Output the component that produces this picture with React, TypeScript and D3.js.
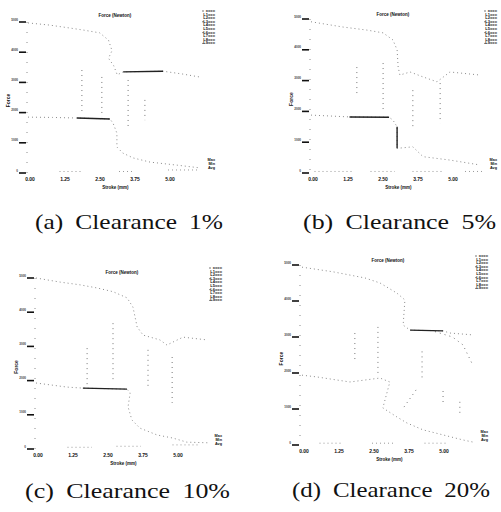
import React from "react";
import * as d3 from "d3";

// ---------- data (data units: stroke 0..5, force 0..5) ----------
const CAPTIONS = ["(a) Clearance 1%", "(b) Clearance 5%", "(c) Clearance 10%", "(d) Clearance 20%"];
const X_TICKS = [0, 1, 2, 3, 4];
const X_TICK_LABELS = ["0.00", "1.25", "2.50", "3.75", "5.00"];
const Y_TICKS = [0, 1, 2, 3, 4, 5];
const Y_TICK_LABELS = ["0", "1000", "2000", "3000", "4000", "5000"];
const TITLES = ["Force (Newton)", "Force (Newton)", "Force (Newton)", "Force (Newton)"];
const X_LABEL = "Stroke (mm)";
const Y_LABEL = "Force";
const LEGEND_TOP = ["x", "L1", "L2", "L3", "L4", "L5", "L6", "L7", "L8", "L9"];
const LEGEND_BOTTOM = ["Max", "Min", "Avg"];

// Panel (a)
const upperA = [[0, 4.97], [0.6, 4.9], [1.2, 4.8], [1.6, 4.73], [2.05, 4.64], [2.3, 4.4], [2.4, 4.05], [2.3, 3.8], [2.45, 3.55], [2.55, 3.25], [2.72, 3.35], [3.86, 3.37], [4.4, 3.28], [4.9, 3.18]];
const lowerA = [[0, 1.85], [0.7, 1.84], [1.4, 1.82], [2.34, 1.79], [2.43, 1.65], [2.54, 1.32], [2.54, 0.86], [2.71, 0.66], [3.0, 0.5], [3.49, 0.36], [4.26, 0.26], [4.91, 0.17]];
const solidA = [[[1.4, 1.82], [2.34, 1.79]], [[2.72, 3.35], [3.86, 3.37]]];
const vertsA = [[[1.54, 3.41], [1.54, 1.99]], [[2.11, 3.18], [2.11, 1.85]], [[2.86, 3.08], [2.86, 1.52]], [[3.34, 2.42], [3.34, 1.75]]];
const baseA = [[[0.9, 0.05], [1.5, 0.05]], [[2.6, 0.05], [3.0, 0.05]], [[4.0, 0.1], [4.9, 0.1]]];

// Panel (b)
const upperB = [[0, 4.91], [0.91, 4.74], [1.6, 4.64], [2.06, 4.55], [2.34, 4.32], [2.46, 4.0], [2.49, 3.44], [2.54, 3.18], [2.83, 3.28], [3.2, 3.12], [3.6, 2.96], [3.97, 3.28], [4.83, 3.18]];
const lowerB = [[0, 1.88], [1.11, 1.82], [2.23, 1.81], [2.34, 1.72], [2.46, 1.5], [2.46, 0.8], [2.91, 0.85], [3.2, 0.53], [3.97, 0.42], [4.83, 0.26]];
const solidB = [[[1.1, 1.82], [2.23, 1.81]], [[2.46, 1.5], [2.46, 0.8]]];
const vertsB = [[[2.06, 3.57], [2.06, 2.05]], [[1.31, 3.44], [1.31, 2.47]], [[2.91, 2.69], [2.91, 1.5]], [[3.69, 2.92], [3.69, 1.62]]];
const baseB = [[[0.1, 0.05], [1.2, 0.05]], [[1.7, 0.05], [2.4, 0.05]], [[2.9, 0.05], [3.8, 0.05]], [[4.4, 0.05], [4.9, 0.05]]];

// Panel (c)
const upperC = [[0, 5.0], [0.69, 4.88], [1.26, 4.8], [1.74, 4.71], [2.2, 4.6], [2.6, 4.42], [2.77, 4.15], [2.89, 3.57], [3.06, 3.33], [3.54, 3.19], [3.74, 3.04], [4.2, 3.27], [4.89, 3.19]];
const lowerC = [[0, 1.93], [0.89, 1.81], [1.34, 1.78], [2.6, 1.75], [2.69, 1.64], [2.63, 1.23], [2.74, 0.85], [2.97, 0.61], [3.46, 0.41], [3.91, 0.32], [4.31, 0.2], [4.97, 0.18]];
const solidC = [[[1.34, 1.78], [2.6, 1.75]]];
const vertsC = [[[1.46, 2.95], [1.46, 1.81]], [[2.2, 3.68], [2.2, 1.93]], [[3.2, 2.9], [3.2, 1.73]], [[3.89, 2.69], [3.89, 1.35]]];
const baseC = [[[0.9, 0.05], [1.6, 0.05]], [[2.3, 0.08], [3.0, 0.08]], [[3.9, 0.12], [4.7, 0.12]]];

// Panel (d)
const upperD = [[0, 4.94], [0.89, 4.81], [1.8, 4.64], [2.23, 4.5], [2.71, 4.22], [2.94, 4.03], [2.89, 3.33], [3.09, 3.19], [4.03, 3.17], [4.23, 3.11], [4.86, 3.06]];
const lowerD = [[0, 1.94], [0.43, 1.89], [1.37, 1.75], [2.23, 1.86], [2.51, 1.75], [2.31, 1.03], [2.71, 0.78], [3.0, 0.61], [3.46, 0.42], [4.03, 0.28], [4.6, 0.14], [4.89, 0.08]];
const solidD = [[[3.09, 3.19], [4.03, 3.17]]];
const vertsD = [[[1.51, 3.11], [1.51, 2.28]], [[2.17, 3.28], [2.17, 1.89]], [[3.43, 2.6], [3.43, 1.85]], [[4.03, 1.5], [4.03, 1.1]], [[4.51, 1.2], [4.51, 0.8]], [[3.8, 3.15], [4.3, 3.0], [4.6, 2.78], [4.89, 2.2]], [[3.26, 1.53], [2.91, 1.05]]];
const baseD = [[[0.5, 0.05], [1.1, 0.05]], [[2.0, 0.05], [2.6, 0.05]], [[3.5, 0.05], [4.1, 0.05]]];

const PANEL_DATA = [
  { upper: upperA, lower: lowerA, solid: solidA, verts: vertsA, base: baseA },
  { upper: upperB, lower: lowerB, solid: solidB, verts: vertsB, base: baseB },
  { upper: upperC, lower: lowerC, solid: solidC, verts: vertsC, base: baseC },
  { upper: upperD, lower: lowerD, solid: solidD, verts: vertsD, base: baseD },
];

// ---------- layout ----------
const LAYOUT = [
  { x0: 28, dx: 35, y0: 173, dy: 30.2, axisX: 27, titleX: 115, titleY: 17, legX: 215, legY: 9, capX: 35, capY: 229, capW: 188 },
  { x0: 311, dx: 35, y0: 173, dy: 30.8, axisX: 310, titleX: 393, titleY: 16, legX: 497, legY: 9, capX: 303, capY: 229, capW: 193 },
  { x0: 36, dx: 35, y0: 449, dy: 34.2, axisX: 35, titleX: 122, titleY: 274, legX: 222, legY: 266, capX: 25, capY: 498, capW: 205 },
  { x0: 302, dx: 35, y0: 445, dy: 36, axisX: 300, titleX: 388, titleY: 262, legX: 488, legY: 254, capX: 292, capY: 497, capW: 198 },
];

const DOT = "#8a8a8a";

function Panel({ i }: { i: number }) {
  const L = LAYOUT[i];
  const D = PANEL_DATA[i];
  const x = d3.scaleLinear().domain([0, 5]).range([L.x0, L.x0 + 5 * L.dx]);
  const y = d3.scaleLinear().domain([0, 5]).range([L.y0, L.y0 - 5 * L.dy]);
  const line = d3.line<number[]>().x((d) => x(d[0])).y((d) => y(d[1]));
  const yTop = y(5);
  return (
    <g fontFamily="'Liberation Sans', Arial, sans-serif">
      {/* axes (dotted) */}
      <line x1={L.axisX} x2={L.axisX} y1={yTop} y2={L.y0} stroke={DOT} strokeWidth={1} strokeDasharray="1 9" />
      {Y_TICKS.map((t, k) => (
        <g key={"yt" + k}>
          <line x1={L.axisX - 8} x2={L.axisX - 1} y1={y(t)} y2={y(t)} stroke="#111" strokeWidth={1.6} />
          <text x={L.axisX - 9} y={y(t) - 1.5} fontSize={3} fontWeight="bold" textAnchor="end" fill="#333">{Y_TICK_LABELS[k]}</text>
        </g>
      ))}
      {X_TICKS.map((t, k) => (
        <text key={"xt" + k} x={x(t) + 2} y={L.y0 + 8} fontSize={5} fontWeight="bold" textAnchor="middle" fill="#111">{X_TICK_LABELS[k]}</text>
      ))}
      <text x={x(2.5)} y={L.y0 + 16} fontSize={4.5} fontWeight="bold" textAnchor="middle" fill="#111">{X_LABEL}</text>
      <text transform={`translate(${L.axisX - 17},${y(2.4)}) rotate(-90)`} fontSize={5} fontWeight="bold" textAnchor="middle" fill="#111">{Y_LABEL}</text>
      <text x={L.titleX} y={L.titleY} fontSize={4.5} fontWeight="bold" textAnchor="middle" fill="#111">{TITLES[i]}</text>
      {/* legend */}
      {LEGEND_TOP.map((s, k) => (
        <g key={"lg" + k}>
          <text x={L.legX} y={L.legY + 3.6 * k + 3} fontSize={4} fontWeight="bold" textAnchor="end" fill="#111">{s + "==="}</text>
          {k % 3 === 0 && <circle cx={L.legX - 12} cy={L.legY + 3.6 * k + 2} r={0.7} fill="#444" />}
        </g>
      ))}
      {LEGEND_BOTTOM.map((s, k) => (
        <text key={"lb" + k} x={L.legX} y={L.y0 - 12 + 4 * k} fontSize={3.8} fontWeight="bold" textAnchor="end" fill="#111">{s}</text>
      ))}
      {/* curves */}
      <path d={line(D.upper) || ""} fill="none" stroke={DOT} strokeWidth={1} strokeDasharray="1 3" />
      <path d={line(D.lower) || ""} fill="none" stroke={DOT} strokeWidth={1} strokeDasharray="1 3" />
      {D.verts.map((s, k) => (
        <path key={"v" + k} d={line(s) || ""} fill="none" stroke="#777" strokeWidth={1} strokeDasharray="1 4" />
      ))}
      {D.base.map((s, k) => (
        <path key={"b" + k} d={line(s) || ""} fill="none" stroke="#999" strokeWidth={1} strokeDasharray="1 3" />
      ))}
      {D.solid.map((s, k) => (
        <path key={"s" + k} d={line(s) || ""} fill="none" stroke="#222" strokeWidth={1.4} />
      ))}
      {/* caption */}
      <text x={L.capX} y={L.capY} fontSize={22} wordSpacing={5} fontFamily="'Liberation Serif', 'Times New Roman', serif" fill="#111" textLength={L.capW} lengthAdjust="spacingAndGlyphs">{CAPTIONS[i]}</text>
    </g>
  );
}

export default function App() {
  return (
    <svg width={501} height={512} style={{ position: "absolute", left: 0, top: 0, background: "#fff" }}>
      <rect width={501} height={512} fill="#fff" />
      {[0, 1, 2, 3].map((i) => (
        <Panel key={i} i={i} />
      ))}
    </svg>
  );
}
